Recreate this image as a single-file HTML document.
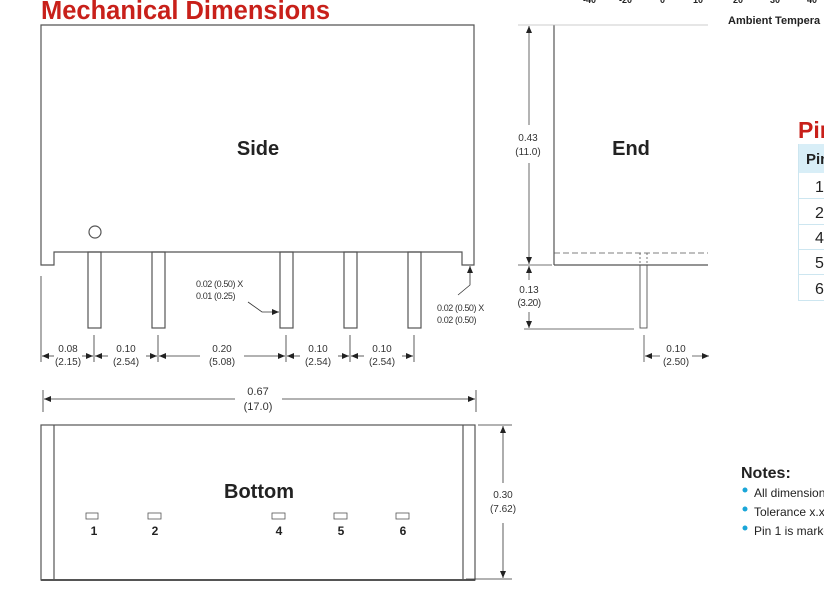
<!DOCTYPE html>
<html><head><style>
body{margin:0;background:#fff;width:824px;height:588px;overflow:hidden;font-family:"Liberation Sans",sans-serif;}
</style></head><body>
<svg width="824" height="588" xmlns="http://www.w3.org/2000/svg" font-family="Liberation Sans, sans-serif">
<defs>
<marker id="a" markerWidth="8" markerHeight="8" refX="7" refY="4" orient="auto" markerUnits="userSpaceOnUse"><path d="M0,1 L7,4 L0,7z" fill="#222"/></marker>
</defs>
<text x="41" y="19" font-size="25.5" font-weight="bold" fill="#c8201a" textLength="289" lengthAdjust="spacingAndGlyphs">Mechanical Dimensions</text>
<g font-size="9" font-weight="bold" fill="#222">
<text x="583" y="3">-40</text><text x="619" y="3">-20</text><text x="660" y="3">0</text><text x="693" y="3">10</text><text x="733" y="3">20</text><text x="770" y="3">30</text><text x="807" y="3">40</text>
<text x="728" y="24" font-size="11">Ambient Tempera</text>
</g>
<g stroke="#555" stroke-width="1.2" fill="none">
<path d="M41,25 H474 V265 H462 V252 H54 V265 H41 Z" fill="#fff"/>
<circle cx="95" cy="232" r="6"/>
<rect x="88" y="252" width="13" height="76"/>
<rect x="152" y="252" width="13" height="76"/>
<rect x="280" y="252" width="13" height="76"/>
<rect x="344" y="252" width="13" height="76"/>
<rect x="408" y="252" width="13" height="76"/>
</g>
<text x="258" y="155" font-size="20" font-weight="bold" fill="#222" text-anchor="middle">Side</text>
<g stroke="#333" stroke-width="0.8" fill="none">
<line x1="41" y1="276" x2="41" y2="362"/>
<line x1="94" y1="335" x2="94" y2="362"/>
<line x1="158" y1="335" x2="158" y2="362"/>
<line x1="286" y1="335" x2="286" y2="362"/>
<line x1="350" y1="335" x2="350" y2="362"/>
<line x1="414" y1="335" x2="414" y2="362"/>
<line x1="54" y1="356" x2="42" y2="356" marker-end="url(#a)"/><line x1="82" y1="356" x2="93" y2="356" marker-end="url(#a)"/>
<line x1="108" y1="356" x2="95" y2="356" marker-end="url(#a)"/><line x1="146" y1="356" x2="157" y2="356" marker-end="url(#a)"/>
<line x1="200" y1="356" x2="159" y2="356" marker-end="url(#a)"/><line x1="244" y1="356" x2="285" y2="356" marker-end="url(#a)"/>
<line x1="300" y1="356" x2="287" y2="356" marker-end="url(#a)"/><line x1="338" y1="356" x2="349" y2="356" marker-end="url(#a)"/>
<line x1="364" y1="356" x2="351" y2="356" marker-end="url(#a)"/><line x1="402" y1="356" x2="413" y2="356" marker-end="url(#a)"/>
<path d="M248,302 L262,312 H279" marker-end="url(#a)"/>
<path d="M458,295 L470,285 V266" marker-end="url(#a)"/>
<line x1="43" y1="390" x2="43" y2="412"/><line x1="476" y1="390" x2="476" y2="412"/>
<line x1="235" y1="399" x2="44" y2="399" marker-end="url(#a)"/><line x1="282" y1="399" x2="475" y2="399" marker-end="url(#a)"/>
</g>
<g font-size="10" fill="#333" text-anchor="middle">
<text x="68" y="352">0.08</text><text x="68" y="365">(2.15)</text>
<text x="126" y="352">0.10</text><text x="126" y="365">(2.54)</text>
<text x="222" y="352">0.20</text><text x="222" y="365">(5.08)</text>
<text x="318" y="352">0.10</text><text x="318" y="365">(2.54)</text>
<text x="382" y="352">0.10</text><text x="382" y="365">(2.54)</text>
<text x="258" y="395" font-size="11">0.67</text><text x="258" y="410" font-size="11">(17.0)</text>
</g>
<g font-size="9" fill="#333" letter-spacing="-0.4">
<text x="196" y="287">0.02 (0.50) X</text><text x="196" y="299">0.01 (0.25)</text>
<text x="437" y="311">0.02 (0.50) X</text><text x="437" y="323">0.02 (0.50)</text>
</g>
<g stroke="#555" stroke-width="1.2" fill="none">
<rect x="41" y="425" width="434" height="155"/>
<line x1="54" y1="425" x2="54" y2="580"/><line x1="463" y1="425" x2="463" y2="580"/>
<line x1="41" y1="580" x2="475" y2="580" stroke-width="2"/>
<rect x="86" y="513" width="12" height="6" stroke-width="0.8"/>
<rect x="148" y="513" width="13" height="6" stroke-width="0.8"/>
<rect x="272" y="513" width="13" height="6" stroke-width="0.8"/>
<rect x="334" y="513" width="13" height="6" stroke-width="0.8"/>
<rect x="396" y="513" width="13" height="6" stroke-width="0.8"/>
</g>
<text x="259" y="498" font-size="20" font-weight="bold" fill="#222" text-anchor="middle">Bottom</text>
<g font-size="12" font-weight="bold" fill="#222" text-anchor="middle">
<text x="94" y="535">1</text><text x="155" y="535">2</text><text x="279" y="535">4</text><text x="341" y="535">5</text><text x="403" y="535">6</text>
</g>
<g stroke="#333" stroke-width="0.8" fill="none">
<line x1="478" y1="425" x2="512" y2="425"/><line x1="466" y1="579" x2="512" y2="579"/>
<line x1="503" y1="483" x2="503" y2="426" marker-end="url(#a)"/><line x1="503" y1="523" x2="503" y2="578" marker-end="url(#a)"/>
</g>
<g font-size="10" fill="#333" text-anchor="middle"><text x="503" y="498">0.30</text><text x="503" y="512">(7.62)</text></g>
<g stroke="#555" stroke-width="1.2" fill="none">
<line x1="554" y1="25" x2="554" y2="265"/>
<line x1="554" y1="265" x2="708" y2="265"/>
<line x1="554" y1="253" x2="708" y2="253" stroke-dasharray="6,3" stroke-width="0.8"/>
<rect x="640" y="265" width="7" height="63" stroke-width="0.9"/>
<line x1="640" y1="253" x2="640" y2="265" stroke-dasharray="2,2" stroke-width="0.8"/>
<line x1="647" y1="253" x2="647" y2="265" stroke-dasharray="2,2" stroke-width="0.8"/>
</g>
<g stroke="#444" stroke-width="0.8" fill="none">
<line x1="518" y1="25" x2="708" y2="25" stroke="#bbb"/>
<line x1="518" y1="265" x2="552" y2="265"/>
<line x1="524" y1="329" x2="634" y2="329"/>
<line x1="529" y1="125" x2="529" y2="26" marker-end="url(#a)"/><line x1="529" y1="163" x2="529" y2="264" marker-end="url(#a)"/>
<line x1="529" y1="280" x2="529" y2="266" marker-end="url(#a)"/><line x1="529" y1="312" x2="529" y2="328" marker-end="url(#a)"/>
<line x1="644" y1="335" x2="644" y2="362"/>
<line x1="660" y1="356" x2="645" y2="356" marker-end="url(#a)"/><line x1="692" y1="356" x2="709" y2="356" marker-end="url(#a)"/>
</g>
<text x="631" y="155" font-size="20" font-weight="bold" fill="#222" text-anchor="middle">End</text>
<g font-size="10" fill="#333" text-anchor="middle">
<text x="528" y="141">0.43</text><text x="528" y="155">(11.0)</text>
<text x="529" y="293">0.13</text><text x="529" y="306" letter-spacing="-0.5">(3.20)</text>
<text x="676" y="352">0.10</text><text x="676" y="365">(2.50)</text>
</g>
<text x="798" y="138" font-size="23" font-weight="bold" fill="#c8201a">Pin</text>
<rect x="798" y="144" width="40" height="29" fill="#d8eef7"/>
<text x="806" y="164" font-size="15" font-weight="bold" fill="#222">Pin</text>
<g stroke="#cde6f0" stroke-width="1" fill="none">
<line x1="798.5" y1="144" x2="798.5" y2="300"/>
<line x1="798" y1="198.5" x2="824" y2="198.5"/><line x1="798" y1="224.5" x2="824" y2="224.5"/>
<line x1="798" y1="249.5" x2="824" y2="249.5"/><line x1="798" y1="274.5" x2="824" y2="274.5"/><line x1="798" y1="300.5" x2="824" y2="300.5"/>
</g>
<g font-size="16" fill="#222"><text x="815" y="192">1</text><text x="815" y="218">2</text><text x="815" y="243">4</text><text x="815" y="268">5</text><text x="815" y="294">6</text></g>
<text x="741" y="478" font-size="16" font-weight="bold" fill="#222">Notes:</text>
<g font-size="12" fill="#222">
<circle cx="745" cy="490" r="2.5" fill="#1aa6d8"/><text x="754" y="497">All dimensions</text>
<circle cx="745" cy="509" r="2.5" fill="#1aa6d8"/><text x="754" y="516">Tolerance x.xx</text>
<circle cx="745" cy="528" r="2.5" fill="#1aa6d8"/><text x="754" y="535">Pin 1 is marked</text>
</g>
</svg>
</body></html>
